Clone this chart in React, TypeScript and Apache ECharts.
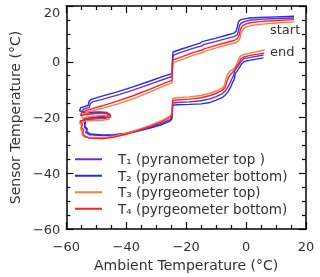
import React, { useEffect, useRef } from "react";
import * as echarts from "echarts";

const seriesNames = [
  "T₁ (pyranometer top )",
  "T₂ (pyranometer bottom)",
  "T₃ (pyrgeometer top)",
  "T₄ (pyrgeometer bottom)",
];
const seriesColors = ["#6a2fc0", "#1f2bff", "#ff7a45", "#ff2222"];

const xTicks = [-60, -40, -20, 0, 20];
const yTicks = [-60, -40, -20, 0, 20];
const annotations = ["start", "end"];

const T1 = [
  [16.0,15.7],[10.0,15.5],[4.5,15.2],[1.3,14.9],[-0.3,14.5],[-1.6,13.9],[-2.2,13.0],[-2.6,10.8],[-3.0,9.6],[-4.0,9.0],[-6.3,8.4],[-10.0,7.3],[-13.6,6.3],[-14.2,6.2],[-14.8,5.7],[-18.0,4.7],[-22.0,3.3],[-24.4,2.3],[-24.6,-1.0],[-24.7,-5.3],[-27.0,-6.1],[-32.0,-8.0],[-37.5,-10.1],[-43.0,-12.0],[-48.0,-13.5],[-51.3,-14.4],[-52.0,-15.0],[-52.3,-16.3],[-54.0,-16.9],[-54.8,-17.6],[-54.2,-18.3],[-51.5,-18.5],[-48.5,-18.4],[-46.0,-18.7],[-45.3,-19.3],[-47.0,-19.9],[-50.0,-20.2],[-53.2,-20.3],[-54.4,-21.0],[-53.8,-22.3],[-54.0,-23.5],[-53.2,-24.4],[-53.5,-25.4],[-52.3,-26.2],[-48.0,-26.5],[-44.0,-26.3],[-40.0,-25.6],[-36.0,-24.7],[-32.0,-23.5],[-28.0,-22.0],[-25.4,-20.8],[-24.8,-20.1],[-24.6,-17.0],[-24.5,-14.8],[-23.0,-14.6],[-19.0,-14.4],[-15.0,-14.0],[-12.0,-13.3],[-10.0,-12.5],[-8.0,-11.5],[-7.0,-10.5],[-6.2,-9.3],[-5.5,-7.9],[-4.8,-6.3],[-4.2,-5.0],[-3.8,-3.2],[-3.0,-1.9],[-1.8,0.0],[-0.8,1.1],[1.0,1.5],[5.8,2.4],
];
const T2 = [
  [16.0,16.3],[10.0,16.1],[4.5,15.9],[1.3,15.7],[-0.5,15.4],[-2.0,15.0],[-2.6,14.2],[-3.0,12.0],[-3.4,10.8],[-4.3,10.2],[-6.3,9.6],[-10.0,8.5],[-14.0,7.4],[-14.6,7.3],[-15.1,6.8],[-18.0,5.8],[-22.0,4.4],[-24.4,3.5],[-24.6,0.0],[-24.7,-4.3],[-27.0,-5.0],[-32.0,-6.9],[-37.5,-8.9],[-43.0,-10.8],[-48.4,-12.4],[-51.7,-13.5],[-52.4,-14.2],[-52.7,-15.6],[-54.0,-16.1],[-55.2,-16.5],[-55.6,-17.6],[-54.5,-18.0],[-52.0,-18.1],[-49.0,-18.0],[-46.5,-18.2],[-45.6,-18.9],[-47.0,-19.5],[-50.0,-19.8],[-53.0,-19.9],[-54.2,-20.4],[-53.6,-21.8],[-53.9,-23.1],[-53.0,-24.0],[-53.3,-25.1],[-52.0,-25.9],[-48.0,-26.3],[-44.0,-26.2],[-40.0,-25.7],[-36.0,-24.9],[-32.0,-23.8],[-28.0,-22.5],[-25.4,-21.3],[-24.8,-20.6],[-24.6,-18.0],[-24.5,-15.6],[-23.0,-15.4],[-19.0,-15.3],[-15.0,-15.1],[-12.0,-14.6],[-10.0,-13.8],[-8.0,-12.9],[-6.9,-11.9],[-6.0,-10.7],[-5.3,-9.4],[-4.6,-7.6],[-4.0,-6.4],[-3.6,-4.3],[-2.8,-3.0],[-1.6,-0.9],[-0.6,0.1],[1.0,0.5],[5.8,1.4],
];
const T3 = [
  [16.0,14.3],[10.0,13.9],[4.5,13.4],[1.3,12.9],[0.0,12.4],[-1.0,11.7],[-1.6,10.6],[-2.0,8.6],[-2.5,7.5],[-3.5,6.8],[-6.3,6.1],[-10.0,5.0],[-13.0,4.0],[-13.6,3.9],[-14.2,3.4],[-18.0,2.2],[-22.0,0.6],[-24.4,-0.3],[-24.6,-3.5],[-24.7,-7.6],[-27.0,-8.5],[-32.0,-10.8],[-37.5,-13.2],[-43.0,-15.2],[-48.0,-16.7],[-51.0,-17.5],[-53.5,-18.3],[-55.0,-19.4],[-54.5,-20.3],[-51.0,-19.5],[-47.5,-19.2],[-45.6,-19.6],[-45.8,-20.6],[-48.0,-21.0],[-51.0,-21.1],[-54.5,-21.4],[-55.6,-21.9],[-54.8,-23.0],[-55.2,-24.3],[-54.5,-25.2],[-54.8,-26.2],[-54.0,-27.0],[-52.0,-27.2],[-48.0,-27.2],[-44.0,-26.6],[-40.0,-25.6],[-36.0,-24.3],[-32.0,-22.8],[-28.0,-21.0],[-25.4,-19.5],[-24.8,-18.6],[-24.6,-15.8],[-24.5,-13.2],[-23.0,-12.9],[-19.0,-12.6],[-15.0,-12.1],[-12.0,-11.3],[-10.0,-10.5],[-8.0,-9.5],[-7.2,-8.4],[-6.8,-6.7],[-6.2,-4.6],[-5.4,-3.3],[-4.5,-2.9],[-3.6,-1.9],[-2.8,0.0],[-1.9,2.0],[-0.8,2.6],[1.0,3.0],[6.2,4.2],
];
const T4 = [
  [16.0,15.1],[10.0,14.8],[4.5,14.4],[1.3,14.0],[-0.2,13.5],[-1.3,12.8],[-1.9,11.6],[-2.3,9.6],[-2.8,8.4],[-3.8,7.7],[-6.3,7.0],[-10.0,5.9],[-13.2,4.9],[-13.8,4.8],[-14.4,4.3],[-18.0,3.2],[-22.0,1.6],[-24.4,0.7],[-24.6,-2.5],[-24.7,-6.7],[-27.0,-7.6],[-32.0,-9.8],[-37.5,-12.1],[-43.0,-14.1],[-48.0,-15.8],[-51.0,-16.7],[-53.0,-17.3],[-54.8,-18.2],[-55.3,-19.2],[-54.0,-19.0],[-50.0,-18.6],[-47.0,-18.4],[-45.5,-18.8],[-45.2,-19.8],[-47.0,-20.3],[-50.0,-20.5],[-53.5,-20.8],[-55.5,-21.2],[-54.6,-22.3],[-55.0,-23.6],[-54.2,-24.5],[-54.6,-25.6],[-53.8,-26.6],[-52.5,-27.4],[-48.0,-27.6],[-44.0,-27.0],[-40.0,-26.0],[-36.0,-24.7],[-32.0,-23.2],[-28.0,-21.5],[-25.4,-20.0],[-24.8,-19.2],[-24.6,-16.5],[-24.5,-14.0],[-23.0,-13.7],[-19.0,-13.4],[-15.0,-12.9],[-12.0,-12.1],[-10.0,-11.3],[-8.0,-10.3],[-7.0,-9.2],[-6.5,-7.5],[-5.8,-5.5],[-5.0,-4.3],[-4.3,-3.6],[-3.5,-2.4],[-2.6,-0.8],[-1.6,1.2],[-0.5,1.8],[1.0,2.2],[6.0,3.1],
];

const FONT = "DejaVu Sans";
const TEXT = "#333";

export default function App() {
  const ref = useRef<HTMLDivElement>(null);
  useEffect(() => {
    if (!ref.current) return;
    const chart = echarts.init(ref.current, null, { renderer: "svg" });
    const fmt = (v: number) => (v < 0 ? "\u2212" + Math.abs(v) : String(v));
    const mkAxis = (extra: any, ticks: number[], showLabel: boolean, margin: number, labelExtra: any = {}) => ({
      type: "value",
      min: ticks[0],
      max: ticks[ticks.length - 1],
      interval: ticks[1] - ticks[0],
      axisLine: { show: true, onZero: false, lineStyle: { color: "#000", width: 1.5 } },
      axisTick: { show: true, inside: true, length: 7, lineStyle: { color: "#000", width: 1.2 } },
      minorTick: { show: true, splitNumber: 4, length: 4, lineStyle: { color: "#000", width: 1.2 } },
      splitLine: { show: false },
      axisLabel: {
        show: showLabel,
        formatter: fmt,
        color: TEXT,
        fontSize: 13,
        fontFamily: FONT,
        margin,
        ...labelExtra,
      },
      ...extra,
    });
    const data = [T1, T2, T3, T4];
    chart.setOption({
      animation: false,
      grid: { left: 63, right: 14, top: 6, bottom: 48 },
      xAxis: [
        mkAxis(
          {
            position: "bottom",
            name: "Ambient Temperature (°C)",
            nameLocation: "middle",
            nameGap: 25,
            nameTextStyle: { color: TEXT, fontSize: 14, fontFamily: FONT },
          },
          xTicks,
          true,
          11
        ),
        mkAxis({ position: "top" }, xTicks, false, 8),
      ],
      yAxis: [
        mkAxis(
          {
            position: "left",
            name: "Sensor Temperature (°C)",
            nameLocation: "middle",
            nameGap: 43,
            nameTextStyle: { color: TEXT, fontSize: 14, fontFamily: FONT },
          },
          yTicks,
          true,
          6,
          { verticalAlignMaxLabel: "top" }
        ),
        mkAxis({ position: "right" }, yTicks, false, 8),
      ],
      legend: {
        orient: "vertical",
        left: 75,
        top: 151,
        padding: 0,
        itemGap: 0,
        itemWidth: 27,
        itemHeight: 2,
        icon: "rect",
        data: seriesNames,
        textStyle: { color: TEXT, fontSize: 13.5, fontFamily: FONT, padding: [0, 0, 0, 11], lineHeight: 16.5 },
      },
      graphic: [
        { type: "text", left: 270, top: 23, style: { text: annotations[0], fill: TEXT, fontSize: 13, fontFamily: FONT } },
        { type: "text", left: 270, top: 45, style: { text: annotations[1], fill: TEXT, fontSize: 13, fontFamily: FONT } },
      ],
      series: data.map((d, i) => ({
        type: "line",
        name: seriesNames[i],
        data: d,
        symbol: "none",
        smooth: false,
        color: seriesColors[i],
        lineStyle: { color: seriesColors[i], width: 1.4 },
        xAxisIndex: 0,
        yAxisIndex: 0,
      })),
    });
    return () => chart.dispose();
  }, []);
  return <div ref={ref} style={{ position: "fixed", left: 0, top: 0, width: 320, height: 277 }} />;
}
